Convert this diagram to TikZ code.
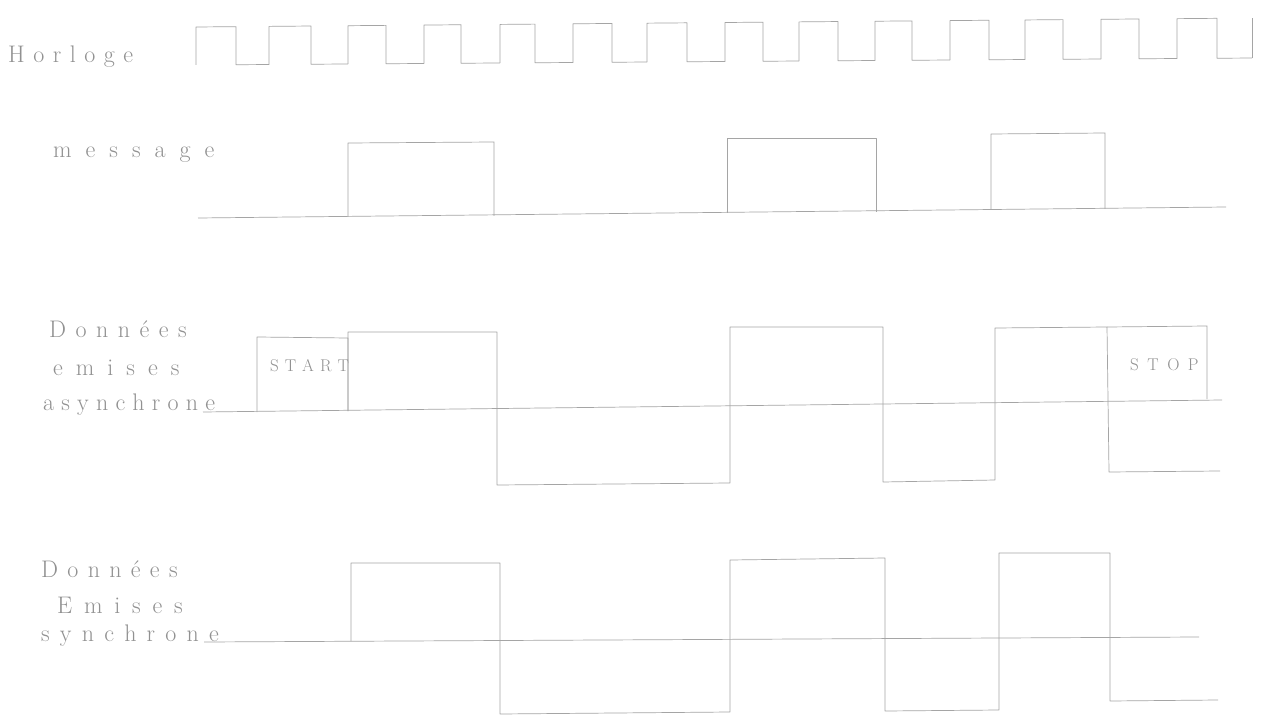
\documentclass[tikz,border=0pt]{standalone}
\usepackage{fontspec}
\definecolor{pencil}{RGB}{165,165,165}
\definecolor{ink}{RGB}{145,145,145}
\makeatletter
\newcommand\spread[2]{\def\sp@gap{\hspace{#1}}\@tfor\sp@c:=#2\do{\sp@c\sp@gap}}
\makeatother
\newcommand\handfont{\fontsize{24}{28}\selectfont}
\newcommand\capfont{\fontsize{17}{20}\selectfont}
\begin{document}
\begin{tikzpicture}[x=1pt,y=-1pt,
  sig/.style={draw=pencil, line width=0.7pt, line join=round},
  hand/.style={text=ink, font=\handfont, anchor=base west, inner sep=0pt},
  boxtext/.style={text=ink, font=\capfont, anchor=base west, inner sep=0pt}]
\useasboundingbox[fill=white] (0,0) rectangle (1271,719);

% ---------------- labels ----------------
\node[hand] (lclock) at (8,63) {\spread{8.5pt}{Horloge}};
\node[hand] (lmsg) at (53,158) {\spread{14pt}{message}};
\node[hand] (la1) at (49,337) {\spread{9.5pt}{Données}};
\node[hand] (la2) at (53,375) {\spread{13pt}{emises}};
\node[hand] (la3) at (43,410) {\spread{7.2pt}{asynchrone}};
\node[hand] (ls1) at (41,577) {\spread{9.3pt}{Données}};
\node[hand] (ls2) at (57,613) {\spread{11.8pt}{Emises}};
\node[hand] (ls3) at (41,641) {\spread{10.2pt}{synchrone}};

% ---------------- clock ----------------
\foreach \r/\f/\n in {196/236/269, 269/311/348, 348/386/424, 424/461/500,
  500/535/573, 573/612/647, 647/687/725, 725/763/799, 799/838/875,
  875/912/950, 950/989/1025, 1025/1063/1101, 1101/1139/1177, 1177/1217/1252}{
  \draw[sig] (\r,{65-0.0066*(\r-196)}) -- (\r,{27-0.0085*(\r-196)})
    -- (\f,{27-0.0085*(\f-196)}) -- (\f,{65-0.0066*(\f-196)})
    -- (\n,{65-0.0066*(\n-196)});
}
\draw[sig] (1252,58) -- (1252,18);

% ---------------- message ----------------
\draw[sig] (198,218) -- (1226,207);
\draw[sig] (348,217) -- (348,143) -- (494,142) -- (494,216);
\draw[sig] (727,213) -- (727,138) -- (876,138) -- (876,212);
\draw[sig] (991,210) -- (991,134) -- (1105,133) -- (1105,209);

% ---------------- asynchronous data ----------------
\draw[sig] (203,412) -- (1222,400);
\draw[sig] (257,412) -- (257,337) -- (348,338) -- (348,411);
\draw[sig] (348,411) -- (348,332) -- (497,332) -- (497,485) -- (730,483)
  -- (730,327) -- (883,327) -- (883,482) -- (995,480) -- (995,328)
  -- (1107,327) -- (1109,472) -- (1220,471);
\draw[sig] (1107,327) -- (1207,326) -- (1207,399);
\node[boxtext] (start) at (270,371) {\spread{6pt}{START}};
\node[boxtext] (stop) at (1130,370) {\spread{8.5pt}{STOP}};

% ---------------- synchronous data ----------------
\draw[sig] (204,642) -- (1199,637);
\draw[sig] (351,641) -- (351,563) -- (500,563) -- (500,714) -- (730,712)
  -- (730,560) -- (885,558) -- (885,711) -- (999,710) -- (999,553)
  -- (1110,553) -- (1110,701) -- (1218,700);
\end{tikzpicture}
\end{document}
